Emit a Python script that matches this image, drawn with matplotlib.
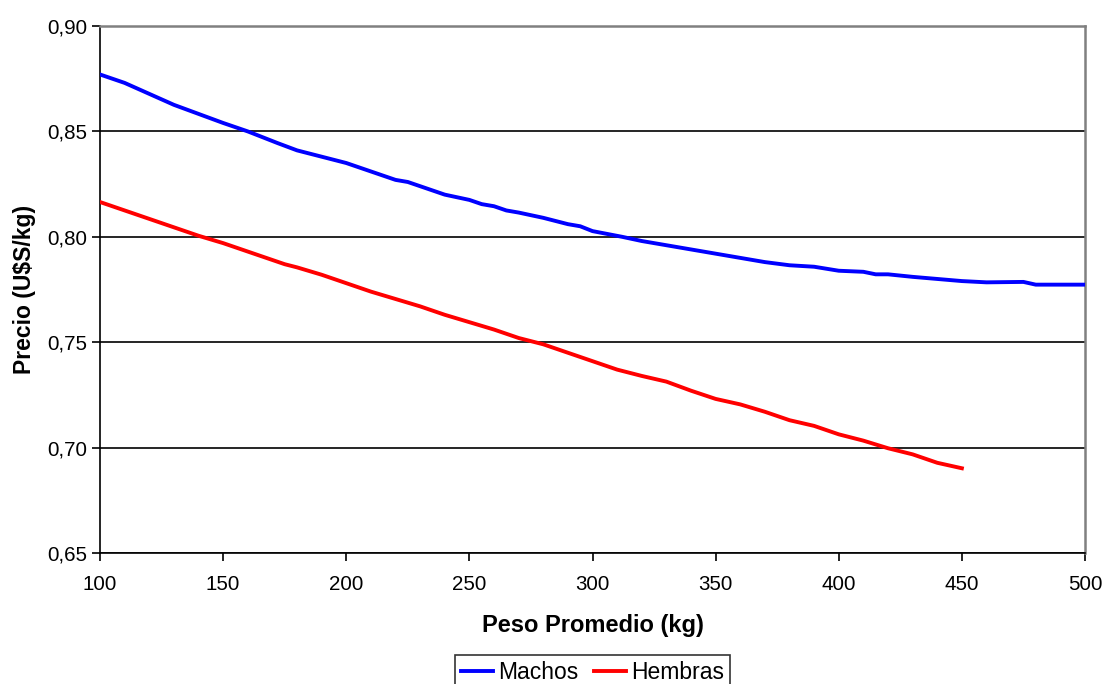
import matplotlib.pyplot as plt
from matplotlib.ticker import FuncFormatter

plt.rcParams['font.family'] = 'Liberation Sans'

# peso promedio (kg) y precio (U$S/kg)
peso_machos = [100, 110, 130, 150, 160, 172, 180, 200, 220, 225, 240, 250, 255,
               260, 265, 270, 280, 290, 295, 300, 312, 320, 330, 340, 350, 360,
               370, 380, 390, 400, 410, 415, 420, 430, 440, 450, 460, 475, 480,
               490, 500]
precio_machos = [0.877, 0.873, 0.8626, 0.854, 0.850, 0.8445, 0.841, 0.835, 0.827,
                 0.826, 0.820, 0.8175, 0.8155, 0.8145, 0.8125, 0.8115, 0.809, 0.806,
                 0.805, 0.8027, 0.800, 0.798, 0.796, 0.794, 0.792, 0.790, 0.788,
                 0.7865, 0.7858, 0.7839, 0.7834, 0.7822, 0.7822, 0.781, 0.780,
                 0.779, 0.7784, 0.7786, 0.7773, 0.7773, 0.7773]

peso_hembras = [100, 110, 120, 130, 140, 150, 160, 170, 175, 180, 190, 200, 210,
                220, 230, 240, 250, 260, 270, 280, 290, 300, 310, 320, 330, 340,
                350, 360, 370, 380, 390, 400, 410, 420, 430, 440, 450]
precio_hembras = [0.8165, 0.8125, 0.8085, 0.8045, 0.8005, 0.797, 0.793, 0.789,
                  0.787, 0.7855, 0.782, 0.778, 0.774, 0.7705, 0.767, 0.763, 0.7595,
                  0.756, 0.752, 0.749, 0.745, 0.741, 0.737, 0.734, 0.7313, 0.727,
                  0.7231, 0.7205, 0.717, 0.713, 0.7103, 0.7063, 0.7033, 0.6997,
                  0.6968, 0.6928, 0.6902]

fig = plt.figure(figsize=(11.04, 6.84), dpi=100)
ax = fig.add_axes([0.0906, 0.1915, 0.8922, 0.7705])

ax.plot(peso_machos, precio_machos, color='#0000ff', lw=2.8, label='Machos', zorder=3)
ax.plot(peso_hembras, precio_hembras, color='#ff0000', lw=2.8, label='Hembras', zorder=3)

ax.set_xlim(100, 500)
ax.set_ylim(0.65, 0.90)
ax.set_xticks(range(100, 501, 50))
ax.set_yticks([0.65, 0.70, 0.75, 0.80, 0.85, 0.90])
ax.yaxis.set_major_formatter(FuncFormatter(lambda v, p: f'{v:.2f}'.replace('.', ',')))

ax.grid(axis='y', color='black', lw=1.2)
ax.set_axisbelow(True)
ax.tick_params(direction='out', length=6, width=1.2, labelsize=14.8, colors='black')
ax.tick_params(axis='x', pad=10)
ax.tick_params(axis='y', pad=3)

for s in ['top', 'right']:
    ax.spines[s].set_color('#808080')
    ax.spines[s].set_linewidth(1.8)
for s in ['left', 'bottom']:
    ax.spines[s].set_color('black')
    ax.spines[s].set_linewidth(1.2)

ax.set_xlabel('Peso Promedio (kg)', fontsize=17, fontweight='bold', labelpad=14)
ax.set_ylabel('Precio (U$S/kg)', fontsize=16.5, fontweight='bold', labelpad=8)

leg = fig.legend(loc='upper left', bbox_to_anchor=(0.412, 0.0424), ncol=2,
                 fontsize=16.5, frameon=True, fancybox=False, edgecolor='black',
                 handlelength=1.4, handletextpad=0.25, columnspacing=0.65,
                 borderpad=0.25, borderaxespad=0)
leg.get_frame().set_linewidth(1.2)

fig.savefig('out.png', dpi=100)
